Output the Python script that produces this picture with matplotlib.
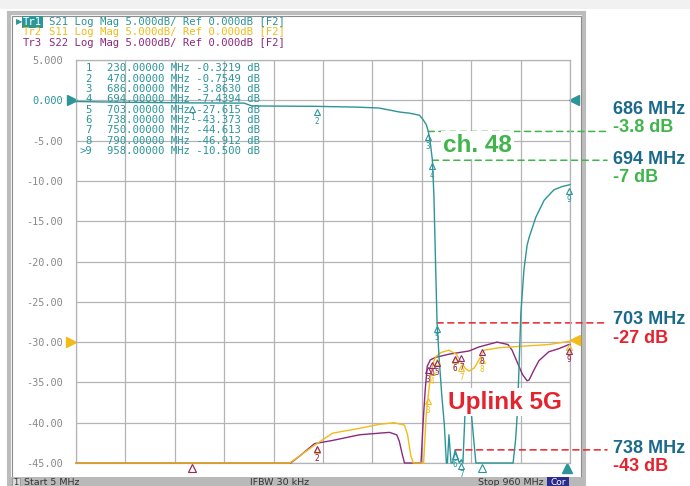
import numpy as np
import matplotlib
matplotlib.use("Agg")
import matplotlib.pyplot as plt
from matplotlib.patches import Rectangle
from matplotlib.transforms import offset_copy, blended_transform_factory

# ---- values ----
start_mhz, stop_mhz = 5, 960

s21_freq = [5, 100, 230, 330, 345, 470, 550, 591, 630, 650, 669, 676, 682, 686,
            690, 694, 697, 700, 703, 707, 712, 717, 721, 723, 726, 730, 733, 736,
            738, 742, 746, 750, 753, 759, 765, 778, 790, 840, 850, 855, 858, 861,
            865, 871, 877, 881, 894, 910, 929, 945, 958, 960]
s21_db = [-0.15, -0.25, -0.32, -0.35, -0.7, -0.75, -0.85, -0.96, -1.45, -1.6, -1.85,
          -2.4, -3.0, -3.86, -5.3, -7.44, -12, -20, -27.6, -32, -36.5, -40.2, -46,
          -47, -41.5, -47, -46, -44, -43.4, -44.2, -46, -44.6, -46, -35.8, -35.8,
          -47, -46.9, -47, -45.5, -42, -39, -34, -26.4, -21, -18, -17, -14.5,
          -12.4, -11.1, -10.7, -10.5, -10.45]

s11_freq = [5, 410, 418, 440, 466, 501, 553, 591, 620, 640, 646, 652, 657, 662,
            672, 677, 682, 687, 692, 697, 701, 710, 726, 740, 750, 758, 765, 775,
            784, 794, 823, 870, 920, 958, 960]
s11_db = [-50, -50, -45.2, -44, -42.8, -41.3, -40.7, -40.2, -40.0, -40.3, -41.5,
          -44, -46, -50, -50, -45, -39, -36, -33.5, -32.3, -31.8, -31.3, -31.0,
          -31.5, -32.5, -33.3, -33.6, -33.2, -32.2, -31.0, -30.7, -30.5, -30.3,
          -29.9, -29.9]

s22_freq = [5, 415, 420, 440, 466, 501, 553, 591, 611, 625, 630, 636, 640, 645,
            668, 672, 676, 680, 684, 690, 700, 726, 765, 784, 819, 840, 848, 858,
            868, 877, 881, 890, 900, 919, 939, 958, 960]
s22_db = [-50, -50, -45.2, -44, -42.6, -42.2, -41.5, -41.3, -41.2, -41.5, -42.3,
          -44, -46, -50, -50, -45, -40, -36, -33, -32.2, -31.9, -31.5, -31.1,
          -30.6, -30.0, -30.3, -31, -32.5, -34, -34.8, -34.7, -33.5, -32.3, -31.2,
          -30.8, -30.3, -30.3]

marker_ids = ["1", "2", "3", "4", "5", "6", "7", "8", ">9"]
marker_freq = [230, 470, 686, 694, 703, 738, 750, 790, 958]
marker_s21 = [-0.3219, -0.7549, -3.8630, -7.4394, -27.615, -43.373, -44.613, -46.912, -10.500]

y_ticks = [5, 0, -5, -10, -15, -20, -25, -30, -35, -40, -45]
y_tick_labels = ["5.000", "0.000", "-5.00", "-10.00", "-15.00", "-20.00",
                 "-25.00", "-30.00", "-35.00", "-40.00", "-45.00"]

trace_names = ["Tr1", "Tr2", "Tr3"]
trace_info = ["S21 Log Mag 5.000dB/ Ref 0.000dB [F2]",
              "S11 Log Mag 5.000dB/ Ref 0.000dB [F2]",
              "S22 Log Mag 5.000dB/ Ref 0.000dB [F2]"]

callout_freq = [686, 694, 703, 738]
callout_mhz = ["686 MHz", "694 MHz", "703 MHz", "738 MHz"]
callout_db = ["-3.8 dB", "-7 dB", "-27 dB", "-43 dB"]

status_texts = ["Start 5 MHz", "IFBW 30 kHz", "Stop 960 MHz"]

# ---- colours ----
TEAL = "#2b9598"
YELLOW = "#f2bb18"
PURPLE = "#8c2a7c"
GRID = "#b4b4b4"
BLUE = "#1a6a8c"
GREEN = "#3fb54c"
RED = "#e4232e"
MONO = "DejaVu Sans Mono"
SANS = "Liberation Sans"

W, H = 690, 486


def fx(x):
    return x / W


def fy(y):
    return 1 - y / H


def box(x0, y0, w, h, **kw):
    # rectangle given in screenshot pixels (top-left origin), drawn behind the axes
    kw.setdefault("zorder", -5)
    fig.add_artist(Rectangle((fx(x0), fy(y0 + h)), w / W, h / H,
                             transform=fig.transFigure, **kw))


fig = plt.figure(figsize=(W / 100, H / 100), dpi=100)
fig.patch.set_facecolor("white")

# window frame and status bar
box(0, 0, 690, 9, facecolor="#f1f1f1", edgecolor="none")
box(9, 13, 575, 473, facecolor="white", edgecolor="#bcbcbc", lw=3)
box(12, 16, 569, 469, facecolor="none", edgecolor="#8c8c8c", lw=0.8, zorder=-4)
box(9, 477, 575, 9, facecolor="#b9b9b9", edgecolor="none", zorder=-3)
box(12, 478, 8, 8, facecolor="#dcdcdc", edgecolor="#888888", lw=0.5, zorder=-2)
box(547, 477, 22, 9, facecolor="#2c2c8e", edgecolor="none", zorder=-2)
fig.text(fx(16), fy(478), "1", fontsize=6, color="#333333", ha="center", va="top")
fig.text(fx(558), fy(478), "Cor", fontsize=6.5, color="white", ha="center", va="top")
for txt, x in zip(status_texts, [24, 250, 478]):
    fig.text(fx(x), fy(478), txt, fontsize=6.8, color="#333333", va="top")

# header lines
for i, (name, info, col) in enumerate(zip(trace_names, trace_info, [TEAL, YELLOW, PURPLE])):
    y = fy(22 + i * 10.4)
    if i == 0:
        fig.text(fx(23), y, name, family=MONO, fontsize=7.7, color="white", va="center",
                 bbox=dict(boxstyle="square,pad=0.05", facecolor=TEAL, edgecolor="none"))
        fig.text(fx(16), y, "\u25b6", fontsize=6, color=TEAL, va="center")
    else:
        fig.text(fx(23), y, name, family=MONO, fontsize=7.7, color=col, va="center")
    fig.text(fx(23 + 4 * 6.44), y, info, family=MONO, fontsize=7.7, color=col, va="center")

# plot area
ax = fig.add_axes([fx(76), fy(463), (570 - 76) / W, (463 - 60) / H])
ax.set_xlim(start_mhz, stop_mhz)
ax.set_ylim(-45, 5)
ax.set_xticks(np.linspace(start_mhz, stop_mhz, 11))
ax.set_xticklabels([])
ax.set_yticks(y_ticks)
ax.set_yticklabels(y_tick_labels, family=MONO, fontsize=7.4, color="#8a8a8a")
ax.get_yticklabels()[1].set_color(TEAL)
ax.tick_params(length=0, pad=9.4)
ax.grid(color=GRID, lw=0.9)
ax.set_axisbelow(True)
for s in ax.spines.values():
    s.set_color(GRID)
    s.set_linewidth(0.9)
ax.set_facecolor("none")

traces = [(s21_freq, s21_db, TEAL), (s11_freq, s11_db, YELLOW), (s22_freq, s22_db, PURPLE)]
for fr, db, col in traces[::-1]:
    ax.plot(fr, np.maximum(db, -45), color=col, lw=1.0, clip_on=False, zorder=3)

# markers on each trace
tri_tr = offset_copy(ax.transData, fig=fig, y=-6, units="dots")
num_tr = offset_copy(ax.transData, fig=fig, y=-15, units="dots")
bottom_tr = blended_transform_factory(ax.transData, ax.transAxes)
for k, (fr, db, col) in enumerate(traces):
    vals = marker_s21 if k == 0 else np.interp(marker_freq, fr, db)
    for mid, f, v in zip(marker_ids, marker_freq, vals):
        if v >= -45:
            ax.plot(f, v, marker="^", ms=5, mfc="none", mec=col, mew=0.8,
                    transform=tri_tr, clip_on=False, zorder=4)
            ax.text(f, v, mid.strip(">"), transform=num_tr, ha="center", va="center",
                    family=MONO, fontsize=5.5, color=col, zorder=4)
        else:
            ax.plot(f, -0.012, marker="^", ms=6, mfc="none", mec=col, mew=0.8,
                    transform=bottom_tr, clip_on=False, zorder=4)

# reference arrows at the axis edges
side_tr = blended_transform_factory(ax.transAxes, ax.transData)
ax.plot(-0.009, 0, marker=">", ms=7, color=TEAL, transform=side_tr, clip_on=False)
ax.plot(-0.011, -30, marker=">", ms=7, color=YELLOW, transform=side_tr, clip_on=False)
ax.plot(1.009, 0, marker="<", ms=7, color=TEAL, transform=side_tr, clip_on=False)
ax.plot(1.011, -29.8, marker="<", ms=7, color=YELLOW, transform=side_tr, clip_on=False)
ax.plot(0.994, -0.012, marker="^", ms=7, color=TEAL, transform=ax.transAxes, clip_on=False)

# marker table
for i, (mid, f, v) in enumerate(zip(marker_ids, marker_freq, marker_s21)):
    y = fy(68.3 + i * 10.35)
    vtxt = f"{v:.4f}" if abs(v) < 10 else f"{v:.3f}"
    fig.text(fx(92), y, mid, family=MONO, fontsize=7.7, color=TEAL, ha="right", va="center")
    fig.text(fx(107), y, f"{f:.5f} MHz {vtxt} dB", family=MONO, fontsize=7.7,
             color=TEAL, va="center")

# call-outs with dashed leader lines
dash_colors = [GREEN, GREEN, RED, RED]
mhz_y = [110, 159, 320, 448]
db_y = [128, 178, 338, 466]
callout_vals = np.interp(callout_freq, marker_freq, marker_s21)
for f, v, mtxt, dtxt, dc, my, dy in zip(callout_freq, callout_vals, callout_mhz,
                                        callout_db, dash_colors, mhz_y, db_y):
    ax.annotate("", xy=(1.075, v), xycoords=("axes fraction", "data"),
                xytext=(f, v), textcoords="data",
                arrowprops=dict(arrowstyle="-", ls=(0, (4, 3)), color=dc, lw=1.1,
                                shrinkA=0, shrinkB=0), zorder=2)
    fig.text(fx(613), fy(my), mtxt, family=SANS, weight="bold", fontsize=13,
             color=BLUE, va="center")
    fig.text(fx(613), fy(dy), dtxt, family=SANS, weight="bold", fontsize=13,
             color=dc, va="center")

fig.text(fx(443), fy(145), "ch. 48", family=SANS, weight="bold", fontsize=17.5,
         color=GREEN, va="center",
         bbox=dict(boxstyle="square,pad=0.1", facecolor="white", edgecolor="none"))
fig.text(fx(448), fy(402), "Uplink 5G", family=SANS, weight="bold", fontsize=17.5,
         color=RED, va="center",
         bbox=dict(boxstyle="square,pad=0.1", facecolor="white", edgecolor="none"))

fig.savefig("out.png", dpi=100)
